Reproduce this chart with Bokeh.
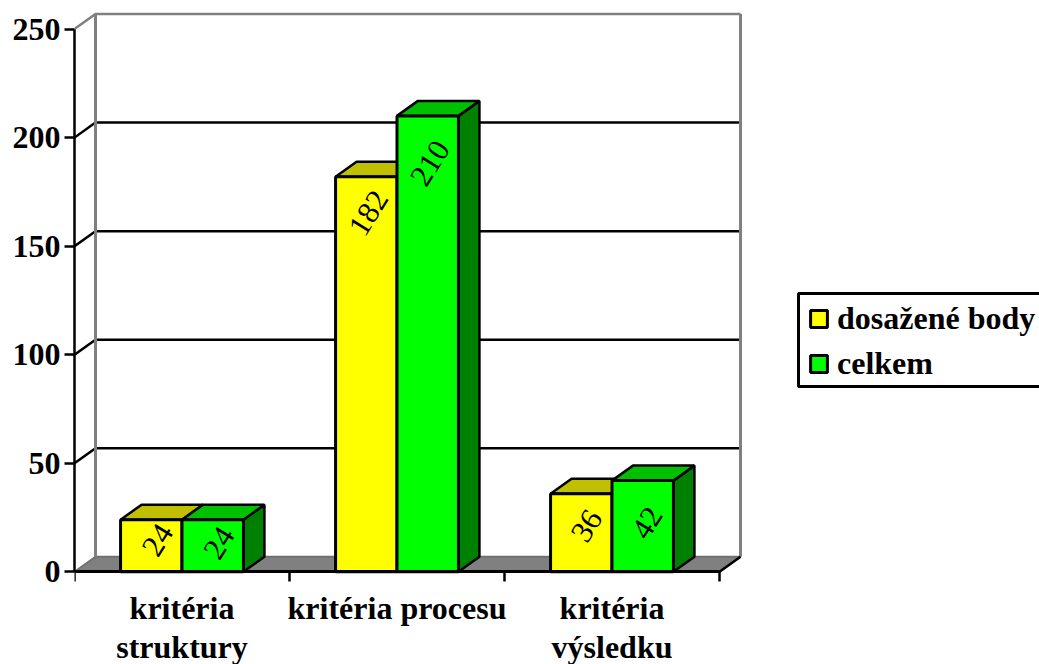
from bokeh.core.properties import value
from bokeh.embed import file_html
from bokeh.models import BoxAnnotation, ColumnDataSource, FixedTicker, Label, Legend, LegendItem, Range1d
from bokeh.plotting import figure
from bokeh.resources import INLINE

# Chart data
categories = ["kritéria\nstruktury", "kritéria procesu", "kritéria\nvýsledku"]
series_names = ["dosažené body", "celkem"]
dosazene_body = [24, 182, 36]
celkem = [24, 210, 42]
y_ticks = [0, 50, 100, 150, 200, 250]

# Pseudo-3D styling
FONT = "Liberation Serif"
PX_PER_CATEGORY = 215.0
PX_PER_UNIT = 2.171
DEPTH_X = 21 / PX_PER_CATEGORY
DEPTH_Y = 15 / PX_PER_UNIT
BAR_WIDTH = 1 / 3.5
N = len(categories)
face_colors = {"front": ["#FFFF00", "#00FF00"],
               "top": ["#C0C000", "#00C000"],
               "side": ["#808000", "#008000"]}
# Per-label nudges (pixels) of the rotated value labels from their bar's top centre
label_dx = [[6, 2, 5], [6, 2, 4]]
label_dy = [[-20, -36, -32], [-23, -47, -42]]

# The frame reaches the bottom of the page so the category names can sit inside it
p = figure(width=1039, height=664, output_backend="svg", toolbar_location=None,
           x_range=Range1d(0, 965 / PX_PER_CATEGORY),
           y_range=Range1d(-92.7 / PX_PER_UNIT, 571.3 / PX_PER_UNIT),
           min_border_left=74, min_border_bottom=0, min_border_top=0, min_border_right=0,
           outline_line_color=None, background_fill_color="white", border_fill_color="white")
p.grid.visible = False

# Floor, walls and gridlines of the chart box
p.patch([0, N, N + DEPTH_X, DEPTH_X], [0, 0, DEPTH_Y, DEPTH_Y],
        fill_color="#808080", line_color="#707070", line_width=2)
grid_xs, grid_ys, grid_colors = [], [], []
for tick in y_ticks[1:]:
    grid_xs.append([0, DEPTH_X, N + DEPTH_X])
    grid_ys.append([tick, tick + DEPTH_Y, tick + DEPTH_Y])
    grid_colors.append("#808080" if tick == y_ticks[-1] else "black")
p.multi_line(grid_xs, grid_ys, line_color=grid_colors, line_width=2.5)
top = y_ticks[-1] + DEPTH_Y
p.multi_line([[DEPTH_X, DEPTH_X], [N + DEPTH_X, N + DEPTH_X]], [[DEPTH_Y, top], [DEPTH_Y, top]],
             line_color="#808080", line_width=3)
p.line([N, N + DEPTH_X], [0, DEPTH_Y], line_color="black", line_width=2.5)

# Bars: side and top faces as patches, front face as a quad
legend_items = []
for s, vals in enumerate([dosazene_body, celkem]):
    lefts = [i + 0.5 + (s - 1) * BAR_WIDTH for i in range(N)]
    rights = [l + BAR_WIDTH for l in lefts]
    p.patches([[r, r + DEPTH_X, r + DEPTH_X, r] for r in rights],
              [[0, DEPTH_Y, v + DEPTH_Y, v] for v in vals],
              fill_color=face_colors["side"][s], line_color="black", line_width=2.5)
    p.patches([[l, l + DEPTH_X, r + DEPTH_X, r] for l, r in zip(lefts, rights)],
              [[v, v + DEPTH_Y, v + DEPTH_Y, v] for v in vals],
              fill_color=face_colors["top"][s], line_color="black", line_width=2.5)
    front = p.quad(left=lefts, right=rights, bottom=0, top=vals,
                   fill_color=face_colors["front"][s], line_color="black", line_width=3)
    legend_items.append(LegendItem(label=series_names[s], renderers=[front]))

# Slanted value labels on the front faces
for s, vals in enumerate([dosazene_body, celkem]):
    src = ColumnDataSource(dict(
        x=[i + 0.5 + (s - 0.5) * BAR_WIDTH for i in range(N)],
        y=vals, text=[str(v) for v in vals], dx=label_dx[s],
        dy=[-d for d in label_dy[s]]))
    p.text("x", "y", text="text", source=src, angle=58, angle_units="deg",
           x_offset="dx", y_offset="dy", text_align="center", text_baseline="middle",
           text_font=value(FONT), text_font_size="31px", text_color="black")

# Axes
ax = p.yaxis[0]
ax.ticker = FixedTicker(ticks=y_ticks)
ax.bounds = (y_ticks[0], y_ticks[-1])
ax.axis_line_color = "black"
ax.axis_line_width = 2.5
ax.major_tick_in = 0
ax.major_tick_out = 10
ax.major_tick_line_width = 2.5
ax.major_tick_line_color = "black"
ax.minor_tick_line_color = None
ax.major_label_standoff = 4
ax.major_label_text_font = FONT
ax.major_label_text_font_style = "bold"
ax.major_label_text_font_size = "32px"
ax.major_label_text_color = "black"

bx = p.xaxis[0]
bx.fixed_location = 0
bx.ticker = FixedTicker(ticks=[], minor_ticks=list(range(N + 1)))
bx.bounds = (0, N)
bx.axis_line_color = "black"
bx.axis_line_width = 3
bx.minor_tick_in = 0
bx.minor_tick_out = 10
bx.minor_tick_line_width = 2.5
bx.minor_tick_line_color = "black"

# Category names under the axis, one label per text line
for i, name in enumerate(categories):
    for line, offset in zip(name.split("\n"), [36, 75]):
        p.add_layout(Label(x=i + 0.5, y=0, text=line, y_offset=-offset,
                           text_align="center", text_baseline="middle", text_font=FONT,
                           text_font_style="bold", text_font_size="32px", text_color="black"))

# Legend frame and its entries
p.add_layout(BoxAnnotation(left=724, right=1000, top=371, bottom=278,
                           left_units="screen", right_units="screen",
                           top_units="screen", bottom_units="screen",
                           fill_color="white", fill_alpha=1,
                           line_color="black", line_alpha=1, line_width=3))
legend = Legend(items=legend_items, location=(734, 282), orientation="vertical",
                glyph_width=21, glyph_height=21, label_text_font=FONT,
                label_text_font_style="bold", label_text_font_size="32px",
                label_text_color="black", label_standoff=8, padding=0, spacing=8,
                margin=0, border_line_color=None, background_fill_alpha=0)
p.add_layout(legend, "center")

open("out.html", "w").write(file_html(p, INLINE))
